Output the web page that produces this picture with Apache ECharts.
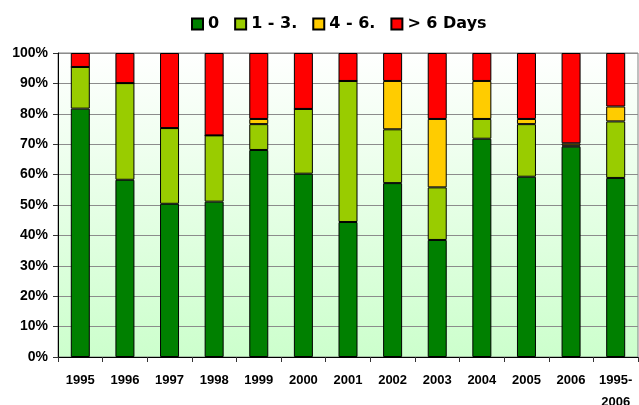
<!DOCTYPE html>
<html>
<head>
<meta charset="utf-8">
<script src="https://cdn.jsdelivr.net/npm/echarts@6/dist/echarts.min.js"></script>
<style>
  html, body { margin: 0; padding: 0; background: #fff; }
  #chart { width: 639px; height: 405px; }
</style>
</head>
<body>
<div id="chart"></div>
<script>
// categories (x axis)
const years = ['1995', '1996', '1997', '1998', '1999', '2000', '2001', '2002', '2003', '2004', '2005', '2006', '1995-\n2006'];

// share of each group, %
const zeroDays = [81.7, 58.3, 50.4, 51.1, 68.1, 60.3, 44.4, 57.2, 38.5, 71.8, 59.3, 69.2, 58.9];
const oneToThree = [13.7, 31.8, 24.9, 21.8, 8.5, 21.3, 46.4, 17.7, 17.3, 6.5, 17.3, 0.4, 18.6];
const fourToSix = [0, 0, 0, 0, 1.7, 0, 0, 15.9, 22.5, 12.5, 1.7, 0.7, 4.9];
const overSix = [4.6, 9.9, 24.7, 27.1, 21.7, 18.4, 9.2, 9.2, 21.7, 9.2, 21.7, 29.7, 17.6];

const yTicks = [0, 10, 20, 30, 40, 50, 60, 70, 80, 90, 100];

const chart = echarts.init(document.getElementById('chart'));

function bar(name, data, color) {
  return {
    name: name,
    type: 'bar',
    stack: 'total',
    barWidth: 19,
    data: data,
    itemStyle: {
      color: color,
      borderColor: '#000',
      borderWidth: 1
    }
  };
}

chart.setOption({
  animation: false,
  textStyle: { fontFamily: 'Liberation Sans, Arial, sans-serif' },
  legend: {
    left: 186,
    top: 11,
    icon: 'rect',
    itemWidth: 11,
    itemHeight: 11,
    itemGap: 15,
    textStyle: {
      fontFamily: 'DejaVu Sans, Verdana, sans-serif',
      fontSize: 16,
      fontWeight: 'bold',
      color: '#000'
    },
    data: ['0', '1 - 3.', '4 - 6.', '> 6 Days']
  },
  grid: {
    left: 58,
    right: 1,
    top: 53,
    bottom: 48,
    outerBoundsMode: 'none',
    containLabel: false,
    show: true,
    borderColor: '#808080',
    borderWidth: 1,
    backgroundColor: new echarts.graphic.LinearGradient(0, 0, 0, 1, [
      { offset: 0, color: '#ffffff' },
      { offset: 1, color: '#ccffcc' }
    ])
  },
  xAxis: {
    type: 'category',
    data: years,
    axisLine: { lineStyle: { color: '#000', width: 1 } },
    axisTick: { show: true, length: 5, lineStyle: { color: '#333' } },
    axisLabel: {
      color: '#000',
      fontSize: 13,
      fontWeight: 'bold',
      margin: 12,
      interval: 0,
      lineHeight: 22
    }
  },
  yAxis: {
    type: 'value',
    min: 0,
    max: 100,
    interval: 10,
    axisLine: { show: true, lineStyle: { color: '#000', width: 1 } },
    axisTick: { show: true, length: 5, lineStyle: { color: '#333' } },
    axisLabel: {
      color: '#000',
      fontSize: 14,
      fontWeight: 'bold',
      margin: 10,
      formatter: function (v) {
        return yTicks.indexOf(v) >= 0 ? v + '%' : '';
      }
    },
    splitLine: { lineStyle: { color: '#8c8c8c', width: 1 } }
  },
  series: [
    bar('0', zeroDays, '#008000'),
    bar('1 - 3.', oneToThree, '#99cc00'),
    bar('4 - 6.', fourToSix, '#ffcc00'),
    bar('> 6 Days', overSix, '#ff0000')
  ]
});
</script>
</body>
</html>
